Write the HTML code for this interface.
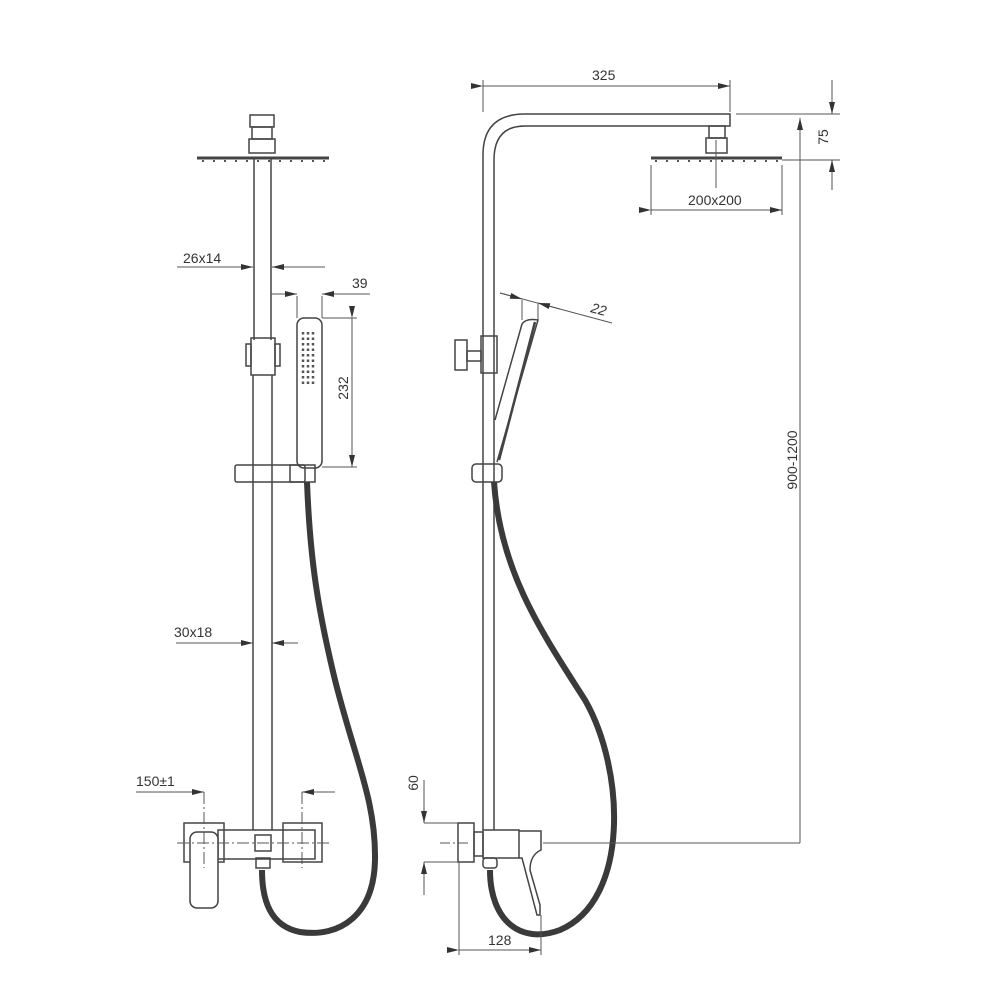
<!DOCTYPE html>
<html><head><style>body{margin:0;background:#fff}svg{display:block}text{font-family:"Liberation Sans",sans-serif;font-size:14px;fill:#333}</style></head><body>
<svg width="1000" height="1000" viewBox="0 0 1000 1000" xmlns="http://www.w3.org/2000/svg">
<defs><marker id="a" markerWidth="12" markerHeight="6" refX="12" refY="3" orient="auto" markerUnits="userSpaceOnUse"><path d="M0,0 L12,3 L0,6z" fill="#333"/></marker></defs>
<g fill="none" stroke="#444" stroke-width="1.5">
<rect x="250" y="115" width="24" height="12"/><rect x="252" y="127" width="20" height="12"/><rect x="249" y="139" width="26" height="14"/>
<path d="M197,158 L329,158" stroke-width="3"/>
<path d="M254,158 V340 M271,158 V340 M253,375 V830 M272,375 V830"/>
<rect x="251" y="338" width="24" height="37"/><rect x="246" y="344" width="5" height="22"/><rect x="275" y="344" width="5" height="22"/>
<rect x="297" y="318" width="25" height="150" rx="7"/>
<rect x="235" y="465" width="70" height="17" rx="2"/><rect x="290" y="465" width="25" height="17"/>
<rect x="184" y="823" width="40" height="39"/><rect x="283" y="823" width="39" height="39"/>
<rect x="218" y="830" width="97" height="29"/>
<rect x="255" y="835" width="16" height="16"/>
<rect x="190" y="832" width="28" height="76" rx="7" fill="#fff"/>
<rect x="256" y="858" width="14" height="10"/>
<path d="M483,830 V155 Q483,114 525,114 H730 V126 H525 Q494,126 494,160 V830"/>
<rect x="709" y="126" width="16" height="12"/><rect x="706" y="138" width="21" height="15"/>
<path d="M651,158 L782,158" stroke-width="3"/>
<rect x="481" y="336" width="16" height="37"/><rect x="467" y="351" width="14" height="10"/><rect x="455" y="340" width="12" height="30"/>
<path d="M495,420 L522,324 Q526,318 538,320 L497,462"/>
<path d="M535,322 L499,460" stroke-width="2.5"/>
<rect x="472" y="464" width="30" height="18" rx="4"/>
<rect x="458" y="823" width="16" height="39"/><rect x="474" y="832" width="9" height="24"/>
<rect x="483" y="830" width="36" height="28"/>
<path d="M519,831 H541 V850 Q530,855 530,870 L540,905 V915 H537 L522,858 H519"/>
<rect x="483" y="858" width="14" height="10" rx="3"/>
</g>
<g fill="none" stroke="#3a3a3a" stroke-width="6">
<path d="M307,482 C310,560 318,610 335,680 C355,760 376,800 375,860 C374,915 340,938 300,932 C270,926 262,900 262,870"/>
<path d="M494,482 C500,570 540,630 585,700 C625,770 630,900 560,930 C520,945 490,920 490,870"/>
</g>
<g stroke="#555" stroke-width="2.5" stroke-dasharray="2.5 3">
<path d="M303,332V384 M308,332V384 M313,332V384"/>
</g>
<g stroke="#555" stroke-width="2" stroke-dasharray="2 9">
<path d="M202,161H326"/><path d="M655,161H780"/>
</g>
<g stroke="#555" stroke-width="1" fill="none">
<path d="M177,267H253" marker-end="url(#a)"/><path d="M325,267H272" marker-end="url(#a)"/>
<path d="M271,294H297" marker-end="url(#a)"/><path d="M370,294H322" marker-end="url(#a)"/>
<path d="M297,296V318 M322,296V318 M322,318H357 M322,467H357"/>
<path d="M352,318V467" marker-start="url(#a)" marker-end="url(#a)"/>
<path d="M176,643H253" marker-end="url(#a)"/><path d="M298,643H272" marker-end="url(#a)"/>
<path d="M136,792H204" marker-end="url(#a)"/><path d="M335,792H302" marker-end="url(#a)"/>
<path d="M204,792V868 M302,792V868 M177,843H330" stroke-dasharray="12 3 2 3"/>
<path d="M483,80V112 M730,80V112"/><path d="M483,86H730" marker-start="url(#a)" marker-end="url(#a)"/>
<path d="M736,114H840 M782,160H840"/>
<path d="M832,80V114" marker-end="url(#a)"/><path d="M832,190V160" marker-end="url(#a)"/>
<path d="M800,843V118" marker-end="url(#a)"/>
<path d="M543,843H800"/>
<path d="M651,165V215 M782,165V215 M716,140V188"/>
<path d="M651,210H782" marker-start="url(#a)" marker-end="url(#a)"/>
<path d="M500,293L612,323"/><path d="M500,293L522,299" marker-end="url(#a)"/><path d="M560,309L538,303" marker-end="url(#a)"/>
<path d="M522,300V320 M538,304V320"/>
<path d="M424,823H458 M424,862H458"/>
<path d="M424,780V823" marker-end="url(#a)"/><path d="M424,895V862" marker-end="url(#a)"/>
<path d="M459,862V955 M541,915V955"/>
<path d="M459,950H541" marker-start="url(#a)" marker-end="url(#a)"/>
<path d="M440,843H470" stroke-dasharray="10 3 2 3"/>
</g>
<text x="183" y="263">26x14</text>
<text x="352" y="288">39</text>
<text x="348" y="388" transform="rotate(-90 348 388)" text-anchor="middle">232</text>
<text x="174" y="637">30x18</text>
<text x="136" y="786">150±1</text>
<text x="592" y="80">325</text>
<text x="828" y="137" transform="rotate(-90 828 137)" text-anchor="middle">75</text>
<text x="688" y="205">200x200</text>
<text x="590" y="312" transform="rotate(15 590 312)" style="font-style:italic">22</text>
<text x="797" y="460" transform="rotate(-90 797 460)" text-anchor="middle">900-1200</text>
<text x="418" y="783" transform="rotate(-90 418 783)" text-anchor="middle">60</text>
<text x="488" y="945">128</text>
</svg>
</body></html>
